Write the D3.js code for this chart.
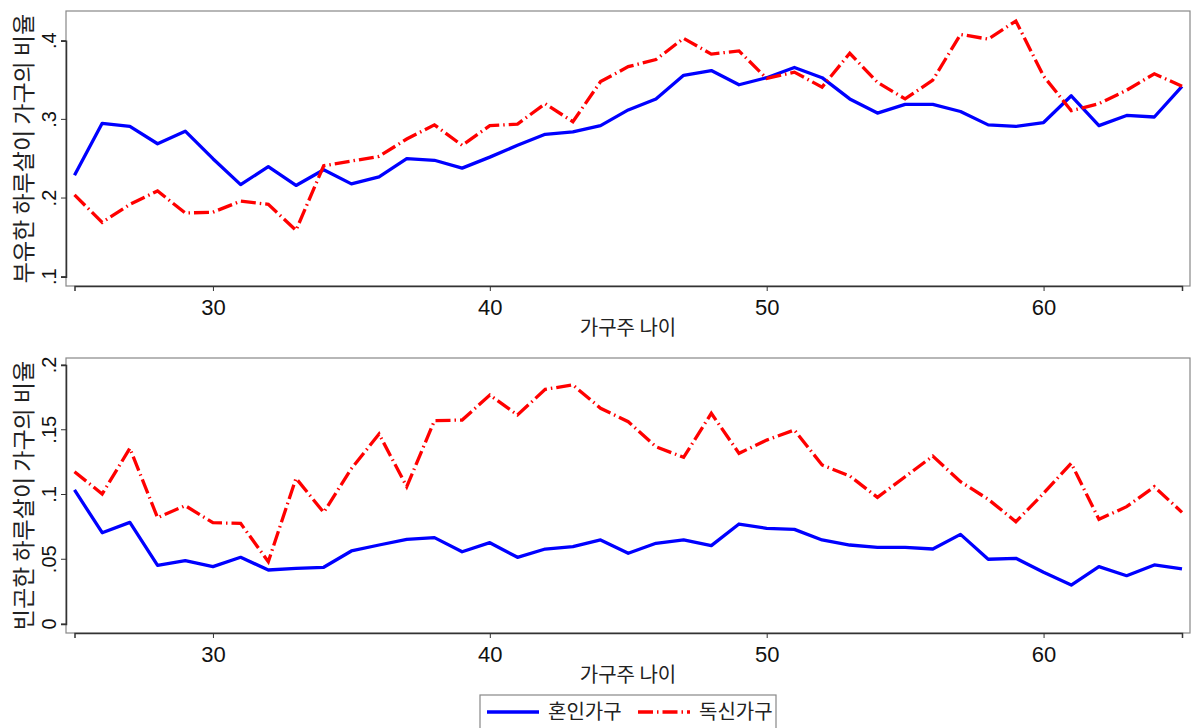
<!DOCTYPE html>
<html>
<head>
<meta charset="utf-8">
<script src="https://cdn.jsdelivr.net/npm/d3@7"></script>
<style>
  body { margin: 0; background: #fff; }
  text { font-family: "Liberation Sans", Arial, sans-serif; }
  .kr { font-family: "Noto Sans CJK KR", sans-serif; }
</style>
</head>
<body>
<div id="chart"></div>
<script>
// ages of household head
const ages = d3.range(25, 66);

// share of "rich" hand-to-mouth households
const richMarried = [0.229,0.295,0.291,0.269,0.285,0.250,0.217,0.240,0.216,0.236,0.218,0.227,
  0.250,0.248,0.238,0.252,0.267,0.281,0.284,0.292,0.312,0.326,0.356,0.362,0.344,0.353,
  0.366,0.353,0.326,0.308,0.319,0.319,0.310,0.293,0.291,0.296,0.330,0.292,0.305,0.303,0.342];
const richSingle = [0.204,0.169,0.192,0.209,0.181,0.182,0.196,0.192,0.159,0.241,0.247,0.253,
  0.275,0.293,0.267,0.292,0.294,0.320,0.297,0.348,0.367,0.376,0.403,0.383,0.387,0.352,
  0.360,0.341,0.384,0.347,0.326,0.350,0.408,0.402,0.425,0.355,0.311,0.320,0.337,0.358,0.342];

// share of "poor" hand-to-mouth households
const poorMarried = [0.1035,0.0705,0.0785,0.0453,0.0489,0.0443,0.0515,0.0417,0.0430,0.0438,0.0564,0.0610,
  0.0654,0.0667,0.0558,0.0628,0.0515,0.0579,0.0597,0.0649,0.0546,0.0623,0.0649,0.0605,0.0772,0.0739,
  0.0731,0.0649,0.0610,0.0592,0.0592,0.0579,0.0692,0.0500,0.0507,0.0399,0.0301,0.0443,0.0373,0.0456,0.0425];
const poorSingle = [0.1176,0.1004,0.1357,0.0821,0.0914,0.0782,0.0777,0.0481,0.1125,0.0862,0.1200,0.1467,
  0.1060,0.1570,0.1575,0.1768,0.1614,0.1812,0.1846,0.1666,0.1562,0.1369,0.1287,0.1627,0.1318,0.1420,
  0.1498,0.1228,0.1143,0.0978,0.1137,0.1297,0.1099,0.0963,0.0790,0.1009,0.1241,0.0808,0.0906,0.1060,0.0862];

const xTicks = [30, 40, 50, 60];
const richTicks = [0.1, 0.2, 0.3, 0.4];
const poorTicks = [0, 0.05, 0.1, 0.15, 0.2];
const seriesNames = ["혼인가구", "독신가구"];

const W = 1192, H = 728;
const svg = d3.select("#chart").append("svg")
  .attr("width", W).attr("height", H);

const x = d3.scaleLinear().domain([25, 65]).range([74.5, 1182]);
const fmt = d => d === 0 ? "0" : String(d).replace(/^0/, "");

const blue = "#0000ff", red = "#ff0000";
const redDash = "15,4,1.5,4";

function panel(top, bottom, yDomain, yRange, ticks, married, single, ytitle) {
  const y = d3.scaleLinear().domain(yDomain).range(yRange);
  const g = svg.append("g");

  // frame
  g.append("rect")
    .attr("x", 66).attr("y", top)
    .attr("width", 1190 - 66).attr("height", bottom - top)
    .attr("fill", "none").attr("stroke", "#888").attr("stroke-width", 1.2);

  // y axis (labels rotated like the original)
  const ya = g.append("g").attr("transform", "translate(66,0)")
    .call(d3.axisLeft(y).tickValues(ticks).tickSize(5).tickFormat(fmt));
  ya.select(".domain").attr("stroke", "#333").attr("stroke-width", 1.5);
  ya.selectAll(".tick").attr("transform", null);
  ya.selectAll(".tick line").attr("stroke", "#333")
    .attr("y1", d => y(d)).attr("y2", d => y(d)).attr("x2", -5);
  ya.selectAll(".tick text")
    .attr("font-size", 20).attr("fill", "#111")
    .attr("text-anchor", "middle")
    .attr("transform", "rotate(-90)")
    .attr("x", d => -y(d)).attr("y", -10).attr("dy", "0");

  // x axis
  const xa = g.append("g").attr("transform", `translate(0,${bottom})`)
    .call(d3.axisBottom(x).tickValues(xTicks).tickSize(5).tickPadding(8));
  xa.select(".domain").attr("stroke", "#333").attr("stroke-width", 1.5);
  xa.selectAll(".tick line").attr("stroke", "#333");
  xa.selectAll(".tick text").attr("font-size", 22).attr("fill", "#111");

  g.append("text").attr("class", "kr")
    .attr("x", 628).attr("y", bottom + 49)
    .attr("text-anchor", "middle").attr("font-size", 20).attr("fill", "#222")
    .text("가구주 나이");

  g.append("text").attr("class", "kr")
    .attr("transform", `translate(32,${(top + bottom) / 2}) rotate(-90)`)
    .attr("text-anchor", "middle").attr("font-size", 23).attr("fill", "#222")
    .text(ytitle);

  const line = d3.line().x((d, i) => x(ages[i])).y(d => y(d));
  g.append("path").datum(married)
    .attr("d", line).attr("fill", "none")
    .attr("stroke", blue).attr("stroke-width", 3.3).attr("stroke-linejoin", "round");
  g.append("path").datum(single)
    .attr("d", line).attr("fill", "none")
    .attr("stroke", red).attr("stroke-width", 3.3).attr("stroke-dasharray", redDash);
}

panel(11, 286, [0.1, 0.4], [276.7, 40.7], richTicks, richMarried, richSingle, "부유한 하루살이 가구의 비율");
panel(358, 633, [0, 0.2], [624, 365], poorTicks, poorMarried, poorSingle, "빈곤한 하루살이 가구의 비율");

// legend
const lg = svg.append("g");
lg.append("rect").attr("x", 480).attr("y", 695).attr("width", 296).attr("height", 40)
  .attr("fill", "#fff").attr("stroke", "#888").attr("stroke-width", 1.2);
const items = [
  { name: seriesNames[0], color: blue, dash: null, x0: 487 },
  { name: seriesNames[1], color: red, dash: redDash, x0: 638 }
];
items.forEach(it => {
  lg.append("line").attr("x1", it.x0).attr("x2", it.x0 + 52)
    .attr("y1", 712).attr("y2", 712)
    .attr("stroke", it.color).attr("stroke-width", 3.3)
    .attr("stroke-dasharray", it.dash);
  lg.append("text").attr("class", "kr")
    .attr("x", it.x0 + 61).attr("y", 719)
    .attr("font-size", 20).attr("fill", "#222")
    .text(it.name);
});
</script>
</body>
</html>
